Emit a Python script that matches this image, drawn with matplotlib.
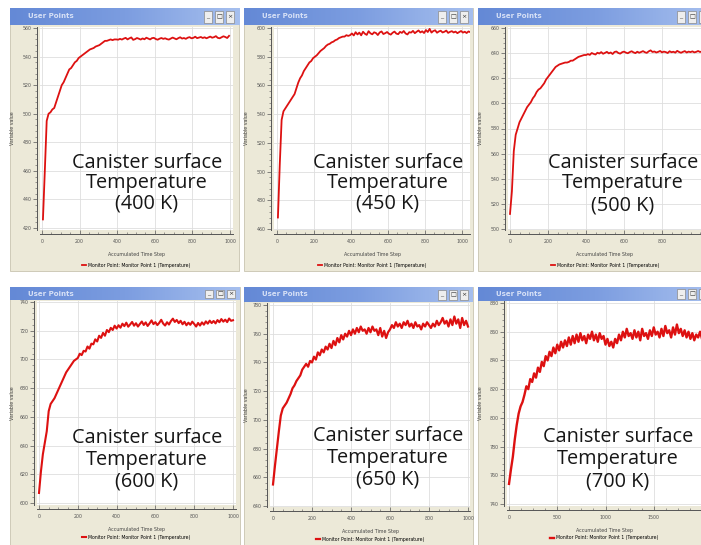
import numpy as np
import matplotlib
matplotlib.use('Agg')
import matplotlib.pyplot as plt
from matplotlib.patches import Rectangle
from matplotlib.colors import LinearSegmentedColormap
from matplotlib.ticker import MultipleLocator, AutoMinorLocator

# monitor point temperature
t400 = [426, 460, 495, 500, 501, 503, 504, 508, 512, 516, 520, 522, 525, 528, 531,
        532, 534, 536, 537, 539, 540, 541, 542, 543, 544, 545, 545.5, 546, 547, 547.5,
        548, 549, 550, 551, 551, 551.5, 552, 551.5, 552, 552,
        551.8, 552.4, 551.9, 552.6, 553.1, 552.0, 552.8, 553.4, 551.7, 552.2, 553.0, 552.5,
        551.9, 552.7, 552.1, 553.2, 552.6, 552.0, 552.9, 553.1, 552.3, 551.8, 552.5, 553.0,
        552.4, 552.8, 552.2, 551.9, 552.6, 553.3, 552.7, 552.1, 552.9, 553.5, 552.6, 553.0,
        552.4, 553.2, 553.6, 552.8, 553.1, 553.9, 552.9, 553.3, 553.7, 553.0, 553.5, 552.8,
        553.4, 554.0, 553.2, 553.6, 554.3, 553.1, 552.8, 553.5, 554.2, 553.7, 553.0, 554.5]

t450 = [468, 505, 536, 542, 544, 546, 548, 550, 552, 554, 558, 562, 565, 567, 570,
        572, 574, 576, 577, 579, 580, 581, 582.5, 584, 585, 586, 587.5, 588.5, 589, 590,
        590.5, 591.5, 592, 593, 593.5, 594, 594, 595, 594.5, 595,
        596.2, 594.8, 597.1, 595.5, 596.8, 594.9, 597.4, 596.0, 595.2, 597.8, 596.3, 595.6,
        597.0, 596.5, 595.1, 596.9, 597.6, 595.8, 596.4, 597.2, 596.0, 595.4, 596.7, 597.5,
        596.1, 595.7, 597.3, 596.6, 597.9, 596.2, 595.5, 597.1, 596.8, 598.0, 596.4, 597.4,
        598.3, 596.9, 597.7, 596.5, 598.6, 597.2, 599.4, 596.8, 597.9, 598.4, 596.7, 597.6,
        598.1, 596.9, 597.4, 598.2, 596.6, 597.3, 597.8, 596.9, 597.5, 596.4, 597.2, 597.9,
        596.8, 597.4, 596.5, 597.6, 597.1]

t500 = [512, 530, 562, 575, 580, 585, 588, 591, 594, 597, 599, 601, 604, 606, 609,
        611, 612, 614, 616, 619, 621, 623, 625, 627, 629, 630, 631, 631.5, 632, 632.5,
        632.5, 633, 634, 634, 635, 636, 637, 637.5, 638, 638.5, 638.5,
        639.2, 638.6, 640.1, 639.4, 638.9, 640.3, 639.7, 640.8, 639.5, 640.2, 641.0, 639.8,
        640.5, 639.3, 640.9, 641.3, 640.1, 639.6, 640.7, 641.2, 640.4, 639.9, 640.8, 641.5,
        640.6, 640.0, 641.1, 640.3, 640.9, 641.6, 640.7, 640.2, 641.4, 642.2, 640.9, 641.3,
        640.5, 641.0, 641.7, 640.6, 641.2, 640.8, 640.1, 641.5, 640.7, 641.1, 640.4, 641.8,
        640.9, 640.3, 641.0, 641.6, 640.5, 641.2, 640.8, 641.4, 640.6, 641.0, 641.7, 640.9,
        641.3, 640.5, 641.1, 640.7, 641.2]

t600 = [607, 622, 634, 642, 650, 664, 669, 671, 673, 676, 679, 682, 685, 688, 691,
        693, 695, 697, 699, 700, 701, 704, 703, 706, 705.5, 709, 707.5, 711, 710.5, 714,
        712.5, 716.5, 715, 718.5, 716.5, 720.5, 719, 722, 720.5, 723.5, 721.5,
        723.8, 722.1, 724.9, 723.2, 725.6, 722.8, 724.4, 726.1, 723.5, 725.2, 722.9, 724.7,
        726.4, 724.0, 725.8, 723.3, 725.1, 727.2, 724.6, 726.0, 723.9, 725.5, 727.6, 725.0,
        723.6, 725.9, 724.3, 726.7, 728.4, 726.1, 727.5, 725.3, 726.9, 724.5, 726.2, 723.8,
        725.6, 724.1, 726.3, 724.7, 722.9, 725.4, 723.6, 725.8, 724.2, 726.5, 724.9, 727.0,
        725.3, 726.8, 725.1, 727.4, 725.9, 728.1, 726.3, 727.7, 726.0, 728.5, 726.9, 727.3]

t650 = [655, 668, 680, 692, 703, 708, 710, 712, 715, 718, 722, 724, 727, 729, 731,
        735, 737, 739, 737, 741, 740, 744, 742, 747, 745, 749, 747, 751, 749, 753,
        750, 755, 752, 757, 754, 759, 756, 760, 758, 762, 759,
        763, 760, 764, 761, 765, 762, 763, 760, 764, 761, 765, 762, 763, 759, 764, 758,
        762, 757, 761, 763, 766, 764, 768, 765, 767, 764, 768, 766, 769, 765, 767, 764,
        768, 765, 766, 763, 767, 765, 768, 766, 764, 767, 765, 769, 766, 768, 771, 767,
        769, 765, 770, 766, 772, 767, 770, 764, 771, 766, 769, 765]

t700 = [754, 764, 773, 785, 795, 803, 808, 811, 816, 822, 820, 827, 825, 831, 828,
        835, 832, 839, 836, 843, 840, 846, 843, 849, 845, 851, 847, 853, 849, 854, 850,
        856, 851, 857, 852, 858, 853, 859, 854, 857, 852, 858, 855, 860, 854, 858, 853,
        859, 855, 857, 851, 855, 850, 853, 849, 855, 852, 858, 854, 860, 856, 862, 857,
        859, 855, 861, 856, 860, 854, 862, 857, 859, 855, 861, 857, 863, 858, 860, 856,
        862, 857, 864, 859, 861, 856, 863, 858, 865, 859, 862, 857, 861, 856, 860, 855,
        859, 854, 858, 856, 860, 855, 858, 857]

labels = ['400 K', '450 K', '500 K', '600 K', '650 K', '700 K']
series = [t400, t450, t500, t600, t650, t700]
x_start = [5, 5, 0, 0, 0, 0]
x_step = [10, 10, 10, 10, 10, 20]
y_range = [(420, 560), (460, 600), (500, 660), (600, 740), (640, 780), (740, 880)]
x_major = [200, 200, 200, 200, 200, 500]
line_w = [1.3, 1.3, 1.3, 1.5, 1.6, 1.7]

W, H = 701, 545
fig = plt.figure(figsize=(7.01, 5.45), dpi=100)
fig.patch.set_facecolor('white')


def fx(px):
    return px / W


def fy(py):
    return 1 - py / H


def rect(x0, y0, x1, y1, **kw):
    fig.add_artist(Rectangle((fx(x0), fy(y1)), fx(x1) - fx(x0), fy(y0) - fy(y1),
                             transform=fig.transFigure, **kw))


# window frames (pixels): left, top, right, bottom, title bar bottom
windows = [(10, 8, 239, 271, 25), (244, 8, 473, 271, 25), (478, 8, 712, 271, 25),
           (10, 287, 240, 545, 300), (244, 287, 473, 545, 302), (478, 287, 712, 545, 301)]
# plot area (pixels): left, top, right, bottom, and where 0 / last tick sit on x
plot_box = [(40, 27, 233, 230), (274, 27, 470, 230), (508, 27, 712, 230),
            (37, 301, 236, 505), (270, 303, 470, 507), (507, 301, 712, 506)]
x_pix = [(42, 230, 1000), (277, 462, 1000), (510, 700, 1000),
         (39, 233, 1000), (273, 468, 1000), (509, 702, 2000)]
y_pix = [(228, 28), (229, 28), (229, 28), (503, 302), (506, 305), (504, 303)]
txt_pos = [(147, 163, 183, 204), (388, 163, 183, 204), (623, 163, 183, 205),
           (147, 438, 460, 481), (388, 436, 458, 480), (618, 437, 459, 481)]

bar_cmap = LinearSegmentedColormap.from_list('bar', ['#6489d6', '#7c9de0', '#a6bfee'])
grad = np.linspace(0, 1, 100).reshape(1, -1)

for i in range(6):
    wl, wt, wr, wb, tb = windows[i]
    rect(wl, wt, wr, wb, facecolor='#ece9d8', edgecolor='#c8c4b0', lw=0.6, zorder=-5)

    tax = fig.add_axes([fx(wl), fy(tb), fx(wr) - fx(wl), fy(wt) - fy(tb)])
    tax.imshow(grad, aspect='auto', cmap=bar_cmap, extent=(0, 1, 0, 1))
    tax.axis('off')
    fig.text(fx(wl + 18), fy((wt + tb) / 2), 'User Points', color='#d6e0f6',
             fontsize=5, fontweight='bold', va='center', ha='left')
    bh = (tb - wt) - 5
    for k, glyph in enumerate(['_', '□', '×']):
        bx = wr - 35 + k * 11
        rect(bx, wt + 2.5, bx + 8, wt + 2.5 + bh, facecolor='#eeeeee',
             edgecolor='#8a8a8a', lw=0.5, zorder=5)
        if bx + 8 < W:
            fig.text(fx(bx + 4), fy(wt + 2.5 + bh / 2), glyph, fontsize=4.5,
                     color='#333333', ha='center', va='center', zorder=6)

    l, t, r, b = plot_box[i]
    x0p, x1p, xv = x_pix[i]
    ybp, ytp = y_pix[i]
    lo, hi = y_range[i]
    sx = (x1p - x0p) / xv
    sy = (ybp - ytp) / (hi - lo)
    ax = fig.add_axes([fx(l), fy(b), fx(r) - fx(l), fy(t) - fy(b)])
    ax.set_facecolor('white')

    vals = series[i]
    steps = x_start[i] + x_step[i] * np.arange(len(vals))
    ax.plot(steps, vals, color='#dd1111', lw=line_w[i],
            label='Monitor Point: Monitor Point 1 (Temperature)')

    # the right-hand windows are cut by the picture edge: keep only labels that fit
    if i % 3 == 2:
        ax.set_xticks([v for v in range(0, xv + 1, x_major[i]) if x0p + v * sx < W - 6])
    else:
        ax.xaxis.set_major_locator(MultipleLocator(x_major[i]))
    ax.xaxis.set_minor_locator(AutoMinorLocator(4))
    ax.yaxis.set_major_locator(MultipleLocator(20))
    ax.yaxis.set_minor_locator(AutoMinorLocator(5))
    ax.set_xlim((l - x0p) / sx, (r - x0p) / sx)
    ax.set_ylim(lo - (b - ybp) / sy, hi + (ytp - t) / sy)

    ax.grid(True, which='major', color='#dedede', lw=0.6)
    ax.set_axisbelow(True)
    for s in ['top', 'right']:
        ax.spines[s].set_visible(False)
    ax.spines['left'].set_position(('outward', 2))
    ax.spines['bottom'].set_position(('outward', 3))
    for s in ['left', 'bottom']:
        ax.spines[s].set_color('#555555')
        ax.spines[s].set_linewidth(0.7)
    ax.tick_params(axis='y', which='major', direction='out', length=3, width=0.5,
                   labelsize=3.4, pad=1, colors='#555555')
    ax.tick_params(axis='y', which='minor', direction='out', length=1.5, width=0.4,
                   colors='#555555')
    ax.tick_params(axis='x', which='major', direction='in', length=3, width=0.5,
                   labelsize=3.4, pad=3.5, colors='#555555')
    ax.tick_params(axis='x', which='minor', direction='in', length=1.5, width=0.4,
                   colors='#555555')

    hgt = b - t
    lab_y = b + 22
    leg_y = b + (35 if i < 3 else 32)
    cx = 0.5 if i % 3 != 2 else (0.5 * (x0p + 700) - l) / (r - l)
    ax.set_xlabel('Accumulated Time Step', fontsize=3.4, color='#444444')
    ax.xaxis.set_label_coords(cx, (b - lab_y) / hgt)
    ax.set_ylabel('Variable value', fontsize=3.4, color='#444444')
    ax.yaxis.set_label_coords((wl + 5 - l) / (r - l), 0.5)
    ax.legend(loc='center', bbox_to_anchor=(cx, (b - leg_y) / hgt), frameon=False,
              fontsize=3.3, handlelength=0.8, handletextpad=0.5, borderpad=0)

    tx, y1, y2, y3 = txt_pos[i]
    for line, yy in zip(['Canister surface', 'Temperature', '(' + labels[i] + ')'],
                        [y1, y2, y3]):
        fig.text(fx(tx), fy(yy), line, fontsize=14.3, family='Open Sans',
                 color='#161616', ha='center', va='center', zorder=4)

fig.savefig('out.png', dpi=100, facecolor='white')
